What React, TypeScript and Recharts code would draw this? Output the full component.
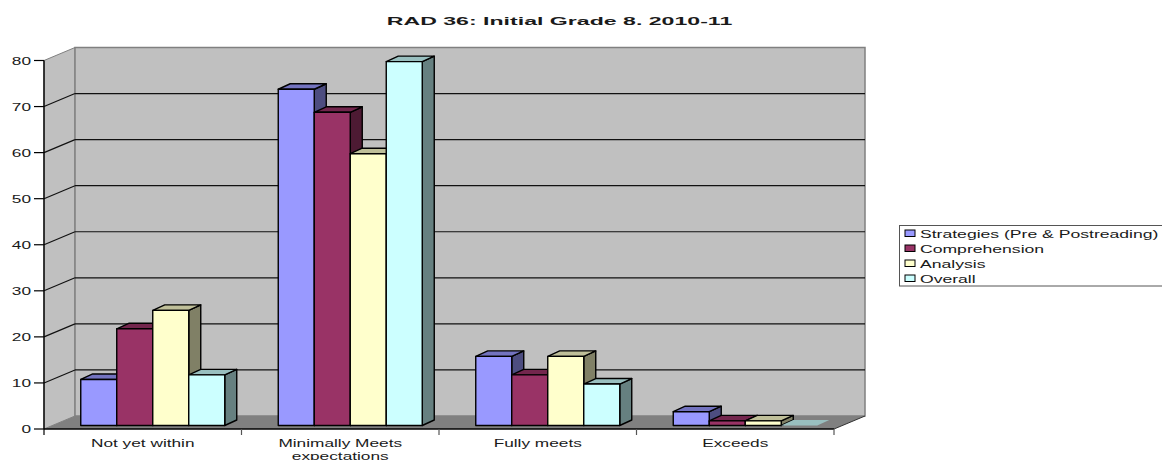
import React from "react";
import { BarChart, Bar, XAxis, YAxis, Legend, ReferenceArea } from "recharts";

const categories = ["Not yet within", "Minimally Meets expectations", "Fully meets", "Exceeds"];
const strategies = [10, 73, 15, 3];
const comprehension = [21, 68, 11, 1];
const analysis = [25, 59, 15, 1];
const overall = [11, 79, 9, 0];
const yTicks = [0, 10, 20, 30, 40, 50, 60, 70, 80];
const seriesNames = ["Strategies (Pre & Postreading)", "Comprehension", "Analysis", "Overall"];
const seriesColors = ["#9999FF", "#993366", "#FFFFCC", "#CCFFFF"];

const data = categories.map((name, i) => ({
  name,
  s0: strategies[i],
  s1: comprehension[i],
  s2: analysis[i],
  s3: overall[i],
}));

const FONT = "'Liberation Sans', Arial, sans-serif";
const STRETCH = 1.57;
const DX = 31; // wall depth
const DY = 13;
const BAR_DX = 9.75; // bars stand in the middle of the floor
const BAR_DY = 3.5;
const BAR_DEPTH_X = 12;
const BAR_DEPTH_Y = 5.5;
const BAND = 197.5;
const TEXT = "#1a1a1a";

const shade = (hex: string, k: number) => {
  const n = parseInt(hex.slice(1), 16);
  const c = [(n >> 16) & 255, (n >> 8) & 255, n & 255].map((v) => Math.round(v * k));
  return `rgb(${c[0]},${c[1]},${c[2]})`;
};

const Bar3D = (props: any) => {
  const { x, y, width, height, fill } = props;
  const l = x + BAR_DX;
  const r = l + width;
  const t = y - BAR_DY;
  const b = t + height;
  const ddx = BAR_DEPTH_X;
  const ddy = BAR_DEPTH_Y;
  const flat = height < 0.5;
  const stroke = flat ? "none" : "#000";
  return (
    <g stroke={stroke} strokeWidth={1.4} strokeLinejoin="round">
      <polygon points={`${r},${t} ${r + ddx},${t - ddy} ${r + ddx},${b - ddy} ${r},${b}`} fill={shade(fill, 0.5)} />
      <polygon points={`${l},${t} ${l + ddx},${t - ddy} ${r + ddx},${t - ddy} ${r},${t}`} fill={shade(fill, 0.75)} />
      <rect x={l} y={t} width={width} height={height} fill={fill} />
    </g>
  );
};

const Walls = (props: any) => {
  const { x, y, width, height } = props;
  const r = x + width;
  const b = y + height;
  const max = yTicks[yTicks.length - 1];
  return (
    <g>
      <polygon points={`${x},${y} ${x + DX},${y - DY} ${x + DX},${b - DY} ${x},${b}`} fill="#C0C0C0" stroke="#808080" strokeWidth={1} />
      <rect x={x + DX} y={y - DY} width={width} height={height} fill="#C0C0C0" stroke="#808080" strokeWidth={1.5} />
      <polygon points={`${x},${b} ${x + DX},${b - DY} ${r + DX},${b - DY} ${r},${b}`} fill="#808080" />
      <line x1={r} y1={b} x2={r + DX} y2={b - DY} stroke="#333" strokeWidth={1} />
      {yTicks.slice(1, -1).map((v) => {
        const ly = b - (height * v) / max;
        return (
          <g key={v} stroke="#111" strokeWidth={1.2}>
            <line x1={x} y1={ly} x2={x + DX} y2={ly - DY} />
            <line x1={x + DX} y1={ly - DY} x2={r + DX} y2={ly - DY} />
          </g>
        );
      })}
    </g>
  );
};

const Stretched = ({ x, y, anchor, bold, size = 11, sx = STRETCH, children }: any) => (
  <text
    transform={`translate(${x},${y}) scale(${sx},1)`}
    textAnchor={anchor}
    fontFamily={FONT}
    fontSize={size}
    fontWeight={bold ? 700 : 400}
    fill={TEXT}
  >
    {children}
  </text>
);

const YTick = (props: any) => {
  const { x, y, payload } = props;
  return (
    <Stretched x={x - 1} y={y + 4} anchor="end">
      {payload.value}
    </Stretched>
  );
};

const XTick = (props: any) => {
  const { x, y, payload, index } = props;
  const text = String(payload.value);
  const words = text.split(" ");
  const lines = text.length > 20 ? [words.slice(0, -1).join(" "), words[words.length - 1]] : [text];
  const right = x + BAND / 2;
  const left = x - BAND / 2;
  return (
    <g>
      {index === 0 && <line x1={left} y1={y - 8} x2={left} y2={y - 2} stroke="#000" strokeWidth={1.2} />}
      <line x1={right} y1={y - 8} x2={right} y2={y - 2} stroke="#555" strokeWidth={1.2} />
      {lines.map((line, i) => (
        <Stretched key={i} x={x} y={y + 10 + i * 13} anchor="middle">
          {line}
        </Stretched>
      ))}
    </g>
  );
};

const LegendBox = (props: any) => {
  const given = props.payload || [];
  const items = seriesNames.map((n) => given.find((p: any) => p.value === n)).filter(Boolean);
  return (
    <svg width={263} height={62} style={{ display: "block" }}>
      <rect x={0.5} y={0.5} width={268} height={60.5} fill="#fff" stroke="#555" strokeWidth={1} />
      {items.map((item: any, i: number) => (
        <g key={item.value}>
          <rect x={6} y={5 + i * 15} width={10} height={6.5} fill={item.color} stroke="#000" strokeWidth={1} />
          <Stretched x={21} y={12.5 + i * 15} sx={1.6}>
            {item.value}
          </Stretched>
        </g>
      ))}
    </svg>
  );
};

export default function App() {
  return (
    <div style={{ position: "absolute", left: 0, top: 0, width: 1162, height: 460, overflow: "hidden", background: "#fff" }}>
      <BarChart
        width={1162}
        height={460}
        data={data}
        margin={{ top: 60.5, right: 328, bottom: 0, left: 0 }}
        barGap={0}
        barSize={36}
      >
        <ReferenceArea y1={0} y2={80} ifOverflow="visible" shape={<Walls />} fill="none" stroke="none" />
        <XAxis
          dataKey="name"
          height={31}
          interval={0}
          tickLine={false}
          axisLine={{ stroke: "#000", strokeWidth: 1.4 }}
          tick={<XTick />}
        />
        <YAxis
          width={44}
          domain={[0, 80]}
          ticks={yTicks}
          tickSize={10}
          tickLine={{ stroke: "#000", strokeWidth: 1.2 }}
          axisLine={{ stroke: "#000", strokeWidth: 1.4 }}
          tick={<YTick />}
        />
        <Legend
          layout="vertical"
          align="center"
          verticalAlign="middle"
          content={<LegendBox />}
          wrapperStyle={{ left: 899, top: 225, width: 263, height: 62, right: "auto", bottom: "auto" }}
        />
        {seriesNames.map((n, i) => (
          <Bar key={n} dataKey={`s${i}`} name={n} fill={seriesColors[i]} shape={<Bar3D />} isAnimationActive={false} />
        ))}
        <Stretched x={559.5} y={24.5} anchor="middle" bold size={11.5} sx={2.01}>
          RAD 36: Initial Grade 8. 2010-11
        </Stretched>
      </BarChart>
    </div>
  );
}
